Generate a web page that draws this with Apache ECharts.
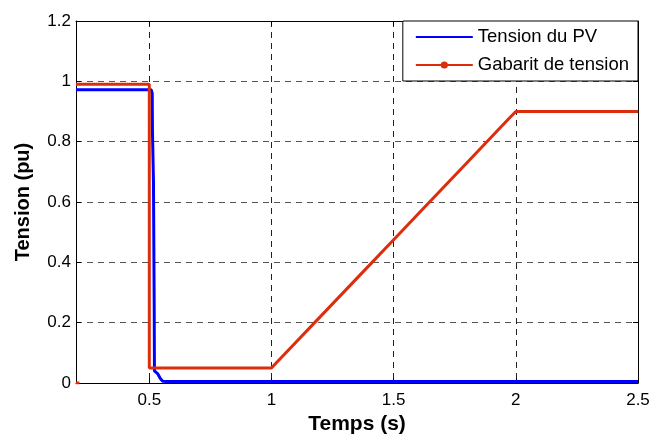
<!DOCTYPE html>
<html>
<head>
<meta charset="utf-8">
<script src="https://cdn.jsdelivr.net/npm/echarts@6/dist/echarts.min.js"></script>
<style>
html,body{margin:0;padding:0;background:#fff;}
#c{width:653px;height:436px;}
</style>
</head>
<body>
<div id="c"></div>
<script>
// ---- data ----
const xTicks = [0.5, 1, 1.5, 2, 2.5];
const yTicks = [0, 0.2, 0.4, 0.6, 0.8, 1, 1.2];

const pvT = [0.2, 0.508, 0.512, 0.513, 0.516, 0.517, 0.519, 0.52, 0.521, 0.527, 0.535, 0.545, 0.555, 0.57, 2.5];
const pvV = [0.972, 0.972, 0.96, 0.83, 0.83, 0.67, 0.67, 0.26, 0.04, 0.04, 0.03, 0.015, 0.006, 0.005, 0.005];

const gabT = [0.2, 0.5, 0.5, 1.0, 1.02, 1.2, 1.4, 1.5, 1.6, 1.8, 1.97, 2.0, 2.5];
const gabV = [0.99, 0.99, 0.05, 0.05, 0.067, 0.22, 0.39, 0.475, 0.56, 0.73, 0.875, 0.9, 0.9];

const stubT = [0.2, 0.214];
const stubV = [0, 0];

const seriesNames = ['Tension du PV', 'Gabarit de tension'];

const zip = (a, b) => a.map((t, i) => [t, b[i]]);

const BLUE = '#0000ff';
const RED = '#dc2d0c';
const FONT = 'Liberation Sans, Arial, sans-serif';

const chart = echarts.init(document.getElementById('c'), null, {renderer: 'canvas'});

const gridLineX = {show: true, lineStyle: {color: '#222', width: 1, type: [6, 5]}};
const gridLineY = {show: true, lineStyle: {color: '#555', width: 1, type: [6, 5]}};

chart.setOption({
  animation: false,
  backgroundColor: '#fff',
  grid: {left: 76, right: 15, top: 21, bottom: 53, containLabel: false, outerBoundsMode: 'none'},
  legend: {
    data: [{name: seriesNames[0], itemStyle: {opacity: 0}}, {name: seriesNames[1]}],
    orient: 'vertical',
    right: 15,
    top: 21,
    backgroundColor: '#fff',
    borderColor: '#000',
    borderWidth: 1,
    borderRadius: 0,
    padding: [2, 9, 2, 12],
    itemGap: 0,
    itemWidth: 57,
    itemHeight: 9,
    textStyle: {fontFamily: FONT, fontSize: 18.5, color: '#000', lineHeight: 28},
    z: 10
  },
  xAxis: [{
    type: 'value',
    min: 0.2,
    max: 2.5,
    name: 'Temps (s)',
    nameLocation: 'middle',
    nameGap: 29,
    nameTextStyle: {fontFamily: FONT, fontSize: 21, fontWeight: 'bold', color: '#000'},
    axisLine: {show: true, onZero: false, lineStyle: {color: '#000', width: 1}},
    axisTick: {show: true, inside: true, length: 5, customValues: xTicks, lineStyle: {color: '#000'}},
    axisLabel: {show: true, customValues: xTicks, margin: 9, fontFamily: FONT, fontSize: 17, color: '#000',
      formatter: v => String(v)},
    splitLine: gridLineX
  }, {
    type: 'value',
    position: 'top',
    min: 0.2,
    max: 2.5,
    axisLine: {show: true, onZero: false, lineStyle: {color: '#000', width: 1}},
    axisTick: {show: true, inside: true, length: 5, customValues: xTicks, lineStyle: {color: '#000'}},
    axisLabel: {show: false},
    splitLine: {show: false}
  }],
  yAxis: [{
    type: 'value',
    min: 0,
    max: 1.2,
    interval: 0.2,
    name: 'Tension (pu)',
    nameLocation: 'middle',
    nameGap: 43,
    nameTextStyle: {fontFamily: FONT, fontSize: 20, fontWeight: 'bold', color: '#000'},
    axisLine: {show: true, onZero: false, lineStyle: {color: '#000', width: 1}},
    axisTick: {show: true, inside: true, length: 5, lineStyle: {color: '#000'}},
    axisLabel: {show: true, margin: 5, fontFamily: FONT, fontSize: 17, color: '#000',
      formatter: v => String(Math.round(v * 10) / 10)},
    splitLine: gridLineY
  }, {
    type: 'value',
    position: 'right',
    min: 0,
    max: 1.2,
    interval: 0.2,
    axisLine: {show: true, onZero: false, lineStyle: {color: '#000', width: 1}},
    axisTick: {show: true, inside: true, length: 5, lineStyle: {color: '#000'}},
    axisLabel: {show: false},
    splitLine: {show: false}
  }],
  series: [{
    name: seriesNames[0],
    type: 'line',
    data: zip(pvT, pvV),
    symbol: 'none',
    showSymbol: false,
    lineStyle: {color: BLUE, width: 3},
    itemStyle: {color: BLUE},
    z: 2
  }, {
    name: seriesNames[1],
    type: 'line',
    data: zip(gabT, gabV),
    symbol: 'circle',
    symbolSize: 7,
    showSymbol: false,
    lineStyle: {color: RED, width: 3},
    itemStyle: {color: RED},
    z: 3
  }, {
    name: 'stub',
    type: 'line',
    data: zip(stubT, stubV),
    symbol: 'none',
    lineStyle: {color: RED, width: 3},
    itemStyle: {color: RED},
    z: 3
  }]
});
</script>
</body>
</html>
